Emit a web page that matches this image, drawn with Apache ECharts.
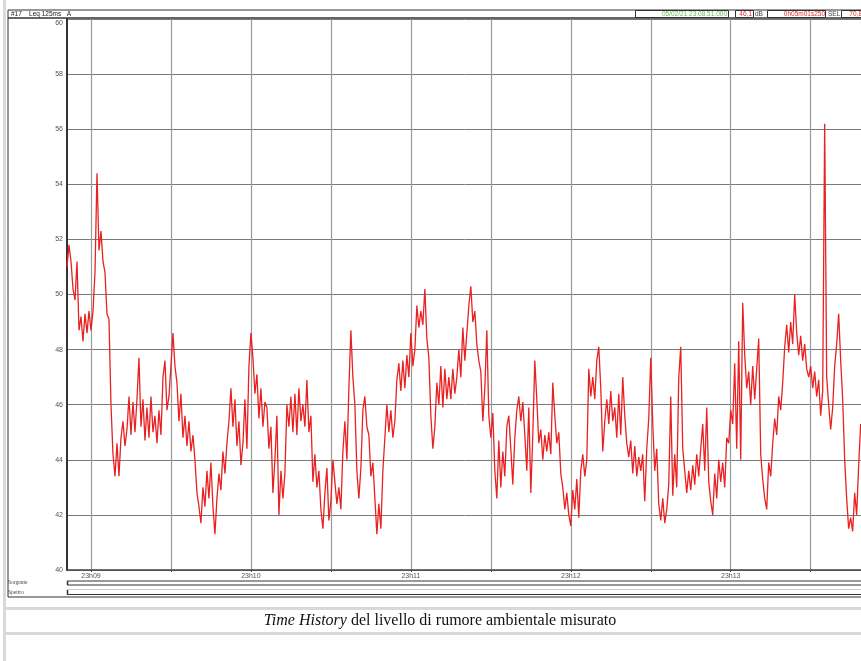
<!DOCTYPE html>
<html>
<head>
<meta charset="utf-8">
<script src="https://cdn.jsdelivr.net/npm/echarts@6/dist/echarts.min.js"></script>
<style>
  html, body { margin: 0; padding: 0; background: #ffffff; }
  #chart { width: 861px; height: 661px; }
</style>
</head>
<body>
<div id="chart"></div>
<script>
// Leq 125ms (A) levels in dB, one reading every stepSec seconds from 23:08:51.000
const stepSec = 0.75;
const leqMinute1 = [
  51.0, 51.8, 51.2, 50.2, 49.8, 51.2, 48.7, 49.2, 48.3, 49.3,
  48.6, 49.4, 48.7, 49.4, 50.8, 54.4, 51.6, 52.3, 51.2, 50.8,
  49.3, 49.1, 46.0, 44.2, 43.4, 44.6, 43.4, 44.8, 45.4, 44.5,
  45.1, 46.3, 44.9, 46.1, 45.0, 46.2, 47.7, 45.2, 46.2, 44.7,
  45.9, 44.8, 46.3, 45.0, 45.6, 44.6, 45.8, 44.9, 47.0, 47.6,
  45.8, 46.3, 47.4, 48.6, 47.4, 46.8, 45.4, 46.4, 44.8, 45.6,
  44.5, 45.4, 44.3, 44.9, 44.0, 42.8, 42.3, 41.7, 43.0, 42.3,
  43.6, 42.6, 43.9, 42.3, 41.3, 42.6, 43.5, 42.9, 44.3, 43.5,
  44.6, 45.4, 46.6, 45.2, 46.2, 44.5, 45.4, 43.8, 44.6, 46.2,
  44.4, 47.4, 48.6, 47.7, 46.4, 47.1, 45.5, 46.6, 45.2, 46.1
];
const leqMinute2 = [
  45.9, 44.4, 45.2, 42.8, 44.0, 45.6, 42.0, 43.6, 42.6, 43.5,
  46.0, 45.2, 46.3, 45.0, 46.4, 44.9, 46.6, 45.4, 46.0, 45.2,
  46.9, 45.0, 45.6, 43.2, 44.2, 43.0, 43.6, 42.2, 41.5, 42.8,
  43.7, 41.8, 42.5, 44.0, 43.2, 42.4, 43.0, 42.2, 44.3, 45.4,
  44.0, 46.6, 48.7, 47.0, 46.0, 43.6, 42.6, 43.7, 45.8, 46.3,
  45.2, 44.9, 43.4, 43.9, 42.6, 41.3, 42.4, 41.5, 43.6, 44.8,
  46.0, 45.0, 45.8, 44.8, 45.4, 46.9, 47.5, 46.5, 47.6, 46.6,
  47.8, 47.0, 48.6, 47.4, 48.0, 49.6, 48.8, 49.4, 48.9, 50.2,
  48.4, 47.7, 45.6, 44.4, 45.2, 46.8, 46.0, 47.4, 45.9, 47.3,
  46.2, 47.0, 46.2, 47.3, 46.4, 47.0, 48.0, 47.0, 48.8, 47.6
];
const leqMinute3 = [
  48.6, 49.6, 50.3, 49.0, 49.4, 48.2, 47.6, 47.2, 45.4, 46.6,
  48.7, 45.6, 44.8, 45.7, 43.6, 42.6, 44.7, 43.0, 44.3, 43.4,
  45.2, 45.6, 44.4, 43.1, 44.8, 45.8, 46.3, 45.4, 46.1, 44.9,
  43.6, 45.9, 42.8, 44.9, 47.6, 46.2, 44.6, 45.1, 44.0, 44.9,
  44.3, 45.0, 44.2, 46.8, 45.6, 44.6, 45.0, 43.5, 43.0, 42.2,
  42.8, 42.0, 41.6, 42.9, 42.2, 43.3, 41.9, 43.6, 44.2, 43.4,
  44.0, 47.3, 46.3, 47.0, 46.2, 47.6, 48.1, 46.6, 44.3, 45.4,
  46.2, 45.3, 46.5, 45.4, 45.9, 44.8, 46.4, 44.9, 47.0, 45.6,
  44.6, 44.1, 44.7, 43.5, 44.5, 43.4, 44.1, 43.6, 44.2, 42.5,
  44.4, 45.5, 47.7, 45.3, 43.6, 44.4, 42.4, 41.8, 42.6, 41.7
];
const leqMinute4 = [
  42.2, 43.1, 46.3, 42.7, 44.2, 43.0, 47.0, 48.1, 44.4, 43.6,
  42.8, 43.6, 42.9, 43.8, 43.1, 44.2, 43.4, 44.4, 45.3, 43.6,
  45.9, 43.2, 42.5, 42.0, 43.5, 42.6, 44.0, 43.2, 43.9, 43.0,
  44.8, 44.6, 45.8, 45.3, 47.5, 44.4, 48.3, 44.0, 49.7, 47.8,
  46.6, 47.2, 46.0, 47.4, 46.2, 47.3, 48.4, 44.2, 43.3, 42.6,
  42.2, 43.9, 43.4, 44.6, 45.5, 44.9, 46.3, 45.8, 46.8, 48.1,
  48.9, 47.9, 49.0, 48.2, 50.0, 48.6, 47.8, 48.5, 47.6, 48.2,
  47.3, 47.0, 47.4, 46.6, 47.2, 46.3, 46.9, 45.6, 46.5, 56.2,
  47.0, 46.0, 45.1, 45.9, 47.4, 48.2, 49.3, 47.6, 46.2, 44.0,
  42.6, 41.5, 41.9, 41.4, 42.8, 42.0, 43.8, 45.3
];

// Axis ticks (seconds after 23:08:51) and labels
const gridSeconds = [9, 39, 69, 99, 129, 159, 189, 219, 249, 279];
const labelSeconds = [9, 69, 129, 189, 249];
const minuteLabels = ['23h09', '23h10', '23h11', '23h12', '23h13'];
const totalSeconds = 301.25;

// Header and footer texts
const headerLeft = '#17    Leq 125ms   A';
const startStamp = '05/02/21 23.08.51.000';
const leqTotal = '46,1';
const durationText = '0h05m01s250';
const selValue = '70,8';
const rowLabels = ['Sorgente', 'Spettro'];
const captionItalic = 'Time History';
const captionRest = ' del livello di rumore ambientale misurato';

const levels = [].concat(leqMinute1, leqMinute2, leqMinute3, leqMinute4);
const seriesData = levels.map((v, i) => [i * stepSec, v]);

const chart = echarts.init(document.getElementById('chart'), null, { renderer: 'canvas' });

const dark = '#333333';
const small = 'Liberation Sans, Arial, sans-serif';
const serif = 'Liberation Serif, Times New Roman, serif';

function box(x, y, w, h) {
  return { type: 'rect', shape: { x: x, y: y, width: w, height: h },
           style: { fill: '#ffffff', stroke: dark, lineWidth: 1 }, z: 5 };
}
function hline(x1, x2, y, color, w) {
  return { type: 'line', shape: { x1: x1, y1: y, x2: x2, y2: y },
           style: { stroke: color, lineWidth: w }, z: 5 };
}
function vline(x, y1, y2, color, w) {
  return { type: 'line', shape: { x1: x, y1: y1, x2: x, y2: y2 },
           style: { stroke: color, lineWidth: w }, z: 5 };
}
function txt(x, y, s, color, align, font) {
  return { type: 'text', x: x, y: y, z: 6,
           style: { text: s, fill: color, font: font || ('7px ' + small),
                    align: align || 'left', verticalAlign: 'middle' } };
}

const graphics = [
  // page strips
  { type: 'rect', shape: { x: 3, y: 0, width: 3, height: 661 }, style: { fill: '#d9d9d9' }, z: 1 },
  { type: 'rect', shape: { x: 3, y: 607, width: 858, height: 3 }, style: { fill: '#d9d9d9' }, z: 1 },
  { type: 'rect', shape: { x: 3, y: 632, width: 858, height: 3 }, style: { fill: '#d9d9d9' }, z: 1 },
  // outer frame
  vline(8, 10, 597, dark, 1),
  hline(8, 861, 10, dark, 1),
  hline(8, 861, 18, dark, 1.5),
  hline(8, 861, 597, dark, 1.2),
  txt(11, 14, headerLeft, '#222222', 'left', '6.5px ' + small),
  // header boxes
  box(635.5, 10.5, 93, 7),
  txt(727, 14, startStamp, '#66bb55', 'right', '6.5px ' + small),
  box(735.5, 10.5, 18, 7),
  txt(752, 14, leqTotal, '#e03030', 'right', '6.5px ' + small),
  txt(755, 14, 'dB', '#444444', 'left', '6.5px ' + small),
  box(767.5, 10.5, 58, 7),
  txt(825, 14, durationText, '#e03030', 'right', '6.5px ' + small),
  txt(828, 14, 'SEL', '#444444', 'left', '6.5px ' + small),
  box(841.5, 10.5, 40, 7),
  txt(862, 14, selValue, '#e03030', 'right', '6.5px ' + small),
  // source / spectrum rows
  txt(8, 583, rowLabels[0], '#444444', 'left', '5.5px ' + serif),
  txt(8, 592.5, rowLabels[1], '#444444', 'left', '5.5px ' + serif),
  hline(67, 861, 581, dark, 1),
  hline(67, 861, 585, dark, 1),
  vline(67.5, 581, 585, dark, 1.5),
  hline(67, 861, 589.5, '#cccccc', 1),
  hline(67, 861, 594.5, dark, 1.2),
  vline(67.5, 590, 594.5, dark, 1.5),
  // caption
  { type: 'text', x: 440, y: 621, z: 6,
    style: {
      text: '{i|' + captionItalic + '}{r|' + captionRest + '}',
      align: 'center', verticalAlign: 'middle',
      rich: {
        i: { font: 'italic 16px ' + serif, fill: '#111111' },
        r: { font: '16px ' + serif, fill: '#111111' }
      }
    } }
];

chart.setOption({
  animation: false,
  backgroundColor: '#ffffff',
  grid: { left: 67, top: 19, width: 803, height: 551, containLabel: false, outerBoundsMode: 'none' },
  xAxis: {
    type: 'value', min: 0, max: totalSeconds,
    axisLine: { show: true, lineStyle: { color: '#444444', width: 1.5 } },
    axisTick: { show: true, customValues: gridSeconds, length: 2, lineStyle: { color: '#444444' } },
    axisLabel: {
      customValues: labelSeconds, margin: 3, fontSize: 7, color: '#555555', fontFamily: small,
      formatter: v => minuteLabels[labelSeconds.indexOf(v)] || ''
    },
    splitLine: { show: true, lineStyle: { color: '#9a9a9a', width: 1.2 } }
  },
  yAxis: {
    type: 'value', min: 40, max: 60, interval: 2,
    axisLine: { show: true, lineStyle: { color: '#333333', width: 2 } },
    axisTick: { show: false },
    axisLabel: {
      margin: 4, fontSize: 7, color: '#555555', fontFamily: small,
      // the top label sits just under the header strip
      formatter: v => (v === 60 ? '{top|60}' : String(v)),
      rich: { top: { fontSize: 7, color: '#555555', fontFamily: small, padding: [9, 0, 0, 0] } }
    },
    splitLine: { show: true, lineStyle: { color: '#7a7a7a', width: 1 } }
  },
  series: [{
    type: 'line', data: seriesData, showSymbol: false, symbol: 'none',
    sampling: null, clip: true,
    lineStyle: { color: '#e82222', width: 1.3 }
  }],
  graphic: graphics
});
</script>
</body>
</html>
